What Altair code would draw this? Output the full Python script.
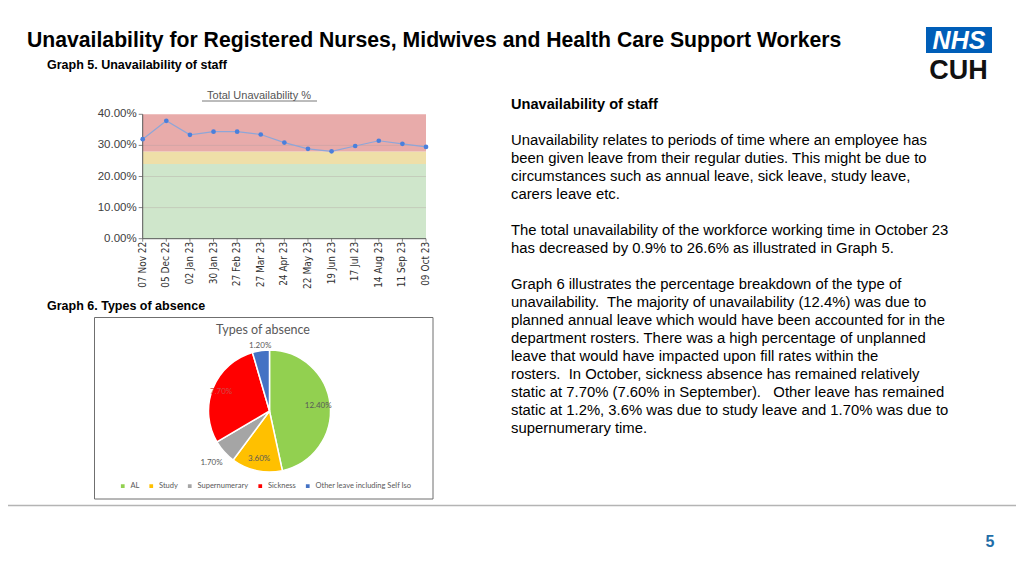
import altair as alt
import pandas as pd

# ---------------- data ----------------
dates = ["07 Nov 22", "05 Dec 22", "02 Jan 23", "30 Jan 23", "27 Feb 23", "27 Mar 23",
         "24 Apr 23", "22 May 23", "19 Jun 23", "17 Jul 23", "14 Aug 23", "11 Sep 23", "09 Oct 23"]
unavail = [0.320, 0.379, 0.334, 0.344, 0.344, 0.335, 0.309, 0.289, 0.281, 0.298, 0.315, 0.305, 0.295]
y_ticks = [0.0, 0.1, 0.2, 0.3, 0.4]
band_lo = [0.0, 0.24, 0.28]
band_hi = [0.24, 0.28, 0.40]
band_col = ["#cfe6cb", "#efdfa8", "#e8abaa"]

absence_types = ["AL", "Study", "Supernumerary", "Sickness", "Other leave including Self Iso"]
absence_vals = [12.40, 3.60, 1.70, 7.70, 1.20]
absence_labels = ["12.40%", "3.60%", "1.70%", "7.70%", "1.20%"]
absence_cols = ["#92d050", "#ffc000", "#a5a5a5", "#ff0000", "#4472c4"]

title = "Unavailability for Registered Nurses, Midwives and Health Care Support Workers"
sub5 = "Graph 5. Unavailability of staff"
sub6 = "Graph 6. Types of absence"
side_head = "Unavailability of staff"
para1 = ["Unavailability relates to periods of time where an employee has",
         "been given leave from their regular duties. This might be due to",
         "circumstances such as annual leave, sick leave, study leave,",
         "carers leave etc."]
para2 = ["The total unavailability of the workforce working time in October 23",
         "has decreased by 0.9% to 26.6% as illustrated in Graph 5."]
para3 = ["Graph 6 illustrates the percentage breakdown of the type of",
         "unavailability.\u00a0 The majority of unavailability (12.4%) was due to",
         "planned annual leave which would have been accounted for in the",
         "department rosters. There was a high percentage of unplanned",
         "leave that would have impacted upon fill rates within the",
         "rosters.\u00a0 In October, sickness absence has remained relatively",
         "static at 7.70% (7.60% in September).\u00a0\u00a0 Other leave has remained",
         "static at 1.2%, 3.6% was due to study leave and 1.70% was due to",
         "supernumerary time."]
page_no = "5"

# ---------------- layout (chart coords = page - 8) ----------------
X0, X1 = 134.7, 418.0
YB, YT = 230.7, 106.3

line_df = pd.DataFrame({"date": dates, "value": unavail})
tick_df = pd.DataFrame({"v": y_ticks, "lab": [f"{t*100:.2f}%" for t in y_ticks]})
band_df = pd.DataFrame({"lo": band_lo, "hi": band_hi, "c": band_col})

xs = alt.Scale(type="point", domain=dates, range=[X0, X1], padding=0)
ys = alt.Scale(domain=[0, 0.4], range=[YB, YT], zero=False, nice=False)
X = alt.X("date:N", scale=xs, axis=None, sort=None)

bands = alt.Chart(band_df).mark_rect().encode(
    x=alt.value(X0), x2=alt.value(X1),
    y=alt.Y("lo:Q", scale=ys, axis=None), y2="hi:Q",
    color=alt.Color("c:N", scale=None))

grid = alt.Chart(tick_df).transform_filter("datum.v > 0 && datum.v < 0.4").mark_rule(
    color="#b0a0a0", strokeWidth=0.6, opacity=0.6).encode(
    x=alt.value(X0), x2=alt.value(X1), y=alt.Y("v:Q", scale=ys, axis=None))

ytick_marks = alt.Chart(tick_df).mark_rule(color="#666", strokeWidth=0.8).encode(
    x=alt.value(X0 - 4), x2=alt.value(X0), y=alt.Y("v:Q", scale=ys, axis=None))

ylabels = alt.Chart(tick_df).mark_text(align="right", baseline="middle", fontSize=11.5,
                                        font="Liberation Sans", color="#404040").encode(
    x=alt.value(X0 - 6), y=alt.Y("v:Q", scale=ys, axis=None), text="lab:N")

xtick_marks = alt.Chart(line_df).mark_rule(color="#666", strokeWidth=0.8).encode(
    x=X, y=alt.value(YB), y2=alt.value(YB + 3))

xlabels = alt.Chart(line_df).mark_text(angle=270, align="right", baseline="middle",
                                       fontSize=10,
                                       font="DejaVu Sans Condensed, Liberation Sans",
                                       color="#303030").encode(
    x=X, y=alt.value(YB + 3), text="date:N")

axis_df = pd.DataFrame({"k": [0]})
yaxis_line = alt.Chart(axis_df).mark_rule(color="#555", strokeWidth=1).encode(
    x=alt.value(X0), y=alt.value(YT), y2=alt.value(YB))
xaxis_line = alt.Chart(axis_df).mark_rule(color="#555", strokeWidth=1).encode(
    x=alt.value(X0), x2=alt.value(X1), y=alt.value(YB))

line = alt.Chart(line_df).mark_line(color="#8ea6d8", strokeWidth=1.2).encode(
    x=X, y=alt.Y("value:Q", scale=ys, axis=None))
pts = alt.Chart(line_df).mark_circle(color="#4a7fdc", size=22, opacity=1).encode(
    x=X, y=alt.Y("value:Q", scale=ys, axis=None))

ct_title = alt.Chart(axis_df).mark_text(text="Total Unavailability %", fontSize=11,
                                        font="Liberation Sans", color="#555555",
                                        align="center", baseline="middle").encode(
    x=alt.value(251), y=alt.value(88))
ct_under = alt.Chart(axis_df).mark_rule(color="#555555", strokeWidth=0.8).encode(
    x=alt.value(194), x2=alt.value(309), y=alt.value(93))

line_chart = alt.layer(bands, grid, ytick_marks, ylabels, xtick_marks, xlabels,
                       yaxis_line, xaxis_line, line, pts, ct_title, ct_under)

# ---------------- pie ----------------
pie_df = pd.DataFrame({"type": absence_types, "val": absence_vals, "lab": absence_labels,
                       "order": list(range(len(absence_types)))})
CX, CY = 261.5, 403
color_scale = alt.Scale(domain=absence_types, range=absence_cols)

box = alt.Chart(axis_df).mark_rect(fill="white", stroke="#6f6f6f", strokeWidth=1).encode(
    x=alt.value(86.5), x2=alt.value(425), y=alt.value(309.5), y2=alt.value(491))

pie = alt.Chart(pie_df).mark_arc(radius=61, stroke="white", strokeWidth=1.5).encode(
    theta=alt.Theta("val:Q", stack=True),
    order=alt.Order("order:Q"),
    color=alt.Color("type:N", scale=color_scale, sort=absence_types,
                    legend=alt.Legend(title=None, orient="none", direction="horizontal",
                                      legendX=111, legendY=474, symbolType="square",
                                      symbolSize=14, labelFontSize=7.5, labelFont="Lato",
                                      labelColor="#595959", columnPadding=7.5,
                                      symbolStrokeWidth=0, labelOffset=4)),
    x=alt.value(CX), y=alt.value(CY))


def pie_labels(expr, radius, color="#595959"):
    return alt.Chart(pie_df).transform_calculate(t=expr).mark_text(
        radius=radius, fontSize=8, font="Lato", color=color).encode(
        theta=alt.Theta("val:Q", stack=True), order=alt.Order("order:Q"),
        text="t:N", x=alt.value(CX), y=alt.value(CY))


pie_in = pie_labels("indexof(['AL', 'Study'], datum.type) >= 0 ? datum.lab : ''", 49)
pie_sick = pie_labels("datum.type == 'Sickness' ? datum.lab : ''", 52, color="#d44a4a")
pie_sup = pie_labels("datum.type == 'Supernumerary' ? datum.lab : ''", 78)
pie_oth = pie_labels("datum.type == 'Other leave including Self Iso' ? datum.lab : ''", 66)

pie_title = alt.Chart(axis_df).mark_text(text="Types of absence", fontSize=12.5, font="Lato",
                                         color="#595959", align="center",
                                         baseline="middle").encode(
    x=alt.value(255), y=alt.value(322))

pie_chart = alt.layer(box, pie_title, pie, pie_in, pie_sick, pie_sup, pie_oth)

# ---------------- slide text ----------------
def txt(text, x, y, size, bold=False, color="#000000", font="Liberation Sans",
        align="left", italic=False, baseline="alphabetic", lh=None, weight=None):
    kw = dict(text=text, fontSize=size, font=font, color=color, align=align, baseline=baseline)
    if bold:
        kw["fontWeight"] = "bold"
    if weight:
        kw["fontWeight"] = weight
    if italic:
        kw["fontStyle"] = "italic"
    if lh:
        kw["lineHeight"] = lh
    return alt.Chart(axis_df).mark_text(**kw).encode(x=alt.value(x), y=alt.value(y))

t_title = txt(title, 19, 38.5, 21.2, bold=True)
t_sub5 = txt(sub5, 39, 60.5, 12.5, bold=True)
t_sub6 = txt(sub6, 39, 301.5, 12.5, bold=True)
t_head = txt(side_head, 503, 101, 14.6, bold=True)
t_p1 = txt(para1, 503, 137, 14.85, lh=18)
t_p2 = txt(para2, 503, 227, 14.85, lh=18)
t_p3 = txt(para3, 503, 281, 14.85, lh=18)

logo_box = alt.Chart(axis_df).mark_rect(fill="#005eb8").encode(
    x=alt.value(918), x2=alt.value(984), y=alt.value(19), y2=alt.value(45))
logo_nhs = txt("NHS", 951, 40.5, 25, bold=True, italic=True, color="#ffffff", align="center")
logo_cuh = txt("CUH", 950.5, 71, 27, color="#111111", align="center", bold=True)

footer = alt.Chart(axis_df).mark_rule(color="#b4b4b4", strokeWidth=1.5).encode(
    x=alt.value(-8), x2=alt.value(1016), y=alt.value(497.5))
t_page = txt(page_no, 982, 539, 16, bold=True, color="#1f6ea8", align="center")

chart = alt.layer(
    footer, line_chart, pie_chart,
    t_title, t_sub5, t_sub6, t_head, t_p1, t_p2, t_p3,
    logo_box, logo_nhs, logo_cuh, t_page
).resolve_scale(x="independent", y="independent", color="independent",
                theta="independent").properties(
    width=1008, height=560,
    autosize=alt.AutoSizeParams(type="none"),
    padding=0, background="white"
).configure_view(stroke=None)

chart.save("out.html", embed_options={"renderer": "svg", "actions": False})
